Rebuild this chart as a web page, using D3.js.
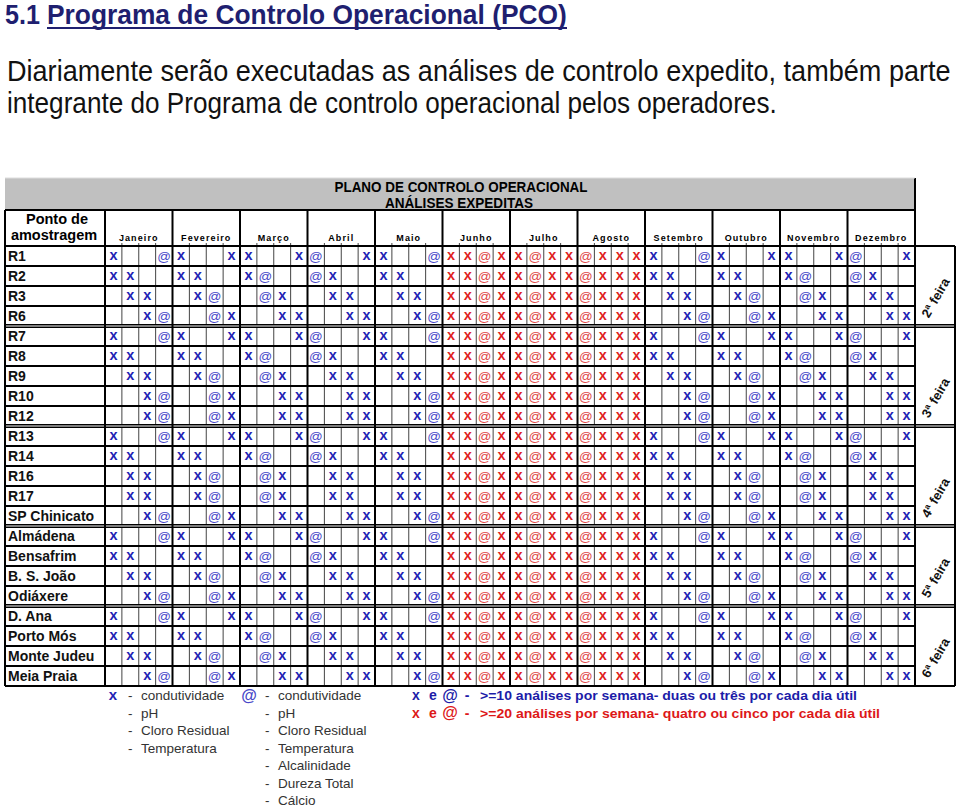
<!DOCTYPE html>
<html><head><meta charset="utf-8">
<script src="https://cdn.jsdelivr.net/npm/d3@7/dist/d3.min.js"></script>
<style>body{margin:0;background:#fff}svg{display:block}</style>
</head><body>
<svg id="c" width="960" height="810"></svg>
<script>
// ---------------- data ----------------
const months = ["Janeiro","Fevereiro","Março","Abril","Maio","Junho","Julho","Agosto","Setembro","Outubro","Novembro","Dezembro"];
const weeksPerMonth = 4;
const highSeason = ["Junho","Julho","Agosto"];
const stations = ["R1","R2","R3","R6","R7","R8","R9","R10","R12","R13","R14","R16","R17",
  "SP Chinicato","Almádena","Bensafrim","B. S. João","Odiáxere","D. Ana","Porto Mós","Monte Judeu","Meia Praia"];
// one string per station, one character per week: x, @ or . (none)
const schedule = [
  "x..@x..xx..x@..xx..@xx@xx@xx@xxxx..@x..xx..x@..x", // R1
  "xx..xx..x@..@x..xx..xx@xx@xx@xxxxx..xx..x@..@x..", // R2
  ".xx..x@..@x..xx..xx.xx@xx@xx@xxx.xx..x@..@x..xx.", // R3
  "..x@..@x..xx..xx..x@xx@xx@xx@xxx..x@..@x..xx..xx", // R6
  "x..@x..xx..x@..xx..@xx@xx@xx@xxxx..@x..xx..x@..x", // R7
  "xx..xx..x@..@x..xx..xx@xx@xx@xxxxx..xx..x@..@x..", // R8
  ".xx..x@..@x..xx..xx.xx@xx@xx@xxx.xx..x@..@x..xx.", // R9
  "..x@..@x..xx..xx..x@xx@xx@xx@xxx..x@..@x..xx..xx", // R10
  "..x@..@x..xx..xx..x@xx@xx@xx@xxx..x@..@x..xx..xx", // R12
  "x..@x..xx..x@..xx..@xx@xx@xx@xxxx..@x..xx..x@..x", // R13
  "xx..xx..x@..@x..xx..xx@xx@xx@xxxxx..xx..x@..@x..", // R14
  ".xx..x@..@x..xx..xx.xx@xx@xx@xxx.xx..x@..@x..xx.", // R16
  ".xx..x@..@x..xx..xx.xx@xx@xx@xxx.xx..x@..@x..xx.", // R17
  "..x@..@x..xx..xx..x@xx@xx@xx@xxx..x@..@x..xx..xx", // SP Chinicato
  "x..@x..xx..x@..xx..@xx@xx@xx@xxxx..@x..xx..x@..x", // Almádena
  "xx..xx..x@..@x..xx..xx@xx@xx@xxxxx..xx..x@..@x..", // Bensafrim
  ".xx..x@..@x..xx..xx.xx@xx@xx@xxx.xx..x@..@x..xx.", // B. S. João
  "..x@..@x..xx..xx..x@xx@xx@xx@xxx..x@..@x..xx..xx", // Odiáxere
  "x..@x..xx..x@..xx..@xx@xx@xx@xxxx..@x..xx..x@..x", // D. Ana
  "xx..xx..x@..@x..xx..xx@xx@xx@xxxxx..xx..x@..@x..", // Porto Mós
  ".xx..x@..@x..xx..xx.xx@xx@xx@xxx.xx..x@..@x..xx.", // Monte Judeu
  "..x@..@x..xx..xx..x@xx@xx@xx@xxx..x@..@x..xx..xx"  // Meia Praia
];
const weekdayLabels = ["2ª feira","3ª feira","4ª feira","5ª feira","6ª feira"];
const weekdayRowCounts = [4,5,5,4,4];
const legendX = ["condutividade","pH","Cloro Residual","Temperatura"];
const legendAt = ["condutividade","pH","Cloro Residual","Temperatura","Alcalinidade","Dureza Total","Cálcio"];
const frequencyNotes = [">=10 análises por semana- duas ou três por cada dia útil",
                        ">=20 análises por semana- quatro ou cinco por cada dia útil"];

// ---------------- drawing ----------------
const svg = d3.select("#c");
const SANS = "'Liberation Sans', Arial, Helvetica, sans-serif";
const BLUE = "#2222b4", BLUE_AT = "#4848c8", RED = "#e01e1e", RED_AT = "#e04848";
const NAVY = "#1f1f70";

const L = 5, X0 = 105, X1 = 915, XR = 955, TOP = 178, HDR = 210, Y0 = 246, Y1 = 686;
const cols = d3.range(months.length * weeksPerMonth);
const x = d3.scaleBand().domain(cols).range([X0, X1]);
const xm = d3.scaleBand().domain(months).range([X0, X1]);
const y = d3.scaleBand().domain(stations).range([Y0, Y1]);

// condensed text: fit natural width by font size, restore height by vertical scale
function condensed(txt, x0, y0, width, size, weight, fill) {
  const t = svg.append("text").attr("x", 0).attr("y", 0).attr("font-family", SANS)
    .attr("font-weight", weight).attr("font-size", size).attr("fill", fill).text(txt);
  const w0 = t.node().getComputedTextLength();
  const fs = size * width / w0;
  t.attr("font-size", fs).attr("transform", `translate(${x0},${y0}) scale(1,${size / fs})`);
  return t;
}

// title
condensed("5.1", 5, 24, 35, 27, "bold", NAVY);
condensed("Programa de Controlo Operacional (PCO)", 47, 24, 520, 27, "bold", NAVY);
svg.append("line").attr("x1", 47).attr("x2", 567).attr("y1", 28).attr("y2", 28).attr("stroke", NAVY).attr("stroke-width", 2);

// body text
condensed("Diariamente serão executadas as análises de controlo expedito, também parte", 7, 81, 944, 29, "normal", "#111");
condensed("integrante do Programa de controlo operacional pelos operadores.", 7, 113, 770, 29, "normal", "#111");

// header grey band
svg.append("rect").attr("x", L).attr("y", TOP).attr("width", X1 - L).attr("height", HDR - TOP).attr("fill", "#c0c0c0");
svg.append("text").attr("x", 461).attr("y", 192).attr("text-anchor", "middle").attr("font-family", SANS)
  .attr("font-weight", "bold").attr("font-size", 14.5).attr("textLength", 253).attr("lengthAdjust", "spacingAndGlyphs")
  .text("PLANO DE CONTROLO OPERACIONAL");
svg.append("text").attr("x", 459).attr("y", 208).attr("text-anchor", "middle").attr("font-family", SANS)
  .attr("font-weight", "bold").attr("font-size", 14.5).attr("textLength", 148).attr("lengthAdjust", "spacingAndGlyphs")
  .text("ANÁLISES EXPEDITAS");

// header row
svg.append("text").attr("x", 57).attr("y", 224).attr("text-anchor", "middle").attr("font-family", SANS)
  .attr("font-weight", "bold").attr("font-size", 14.5).text("Ponto de");
svg.append("text").attr("x", 54).attr("y", 240).attr("text-anchor", "middle").attr("font-family", SANS)
  .attr("font-weight", "bold").attr("font-size", 14.5).text("amostragem");
svg.selectAll("text.month").data(months).join("text").attr("class", "month")
  .attr("x", d => xm(d) + xm.bandwidth() / 2).attr("y", 241).attr("text-anchor", "middle")
  .attr("font-family", SANS).attr("font-weight", "bold").attr("font-size", 9).attr("letter-spacing", 1.1)
  .text(d => d);

// grid: thin week lines
const grid = svg.append("g");
grid.selectAll("line.wk").data(cols.filter(c => c % weeksPerMonth !== 0)).join("line")
  .attr("x1", c => x(c)).attr("x2", c => x(c)).attr("y1", 243).attr("y2", Y1)
  .attr("stroke", "#444").attr("stroke-width", 1);
// row lines
grid.selectAll("line.row").data(stations.slice(1)).join("line")
  .attr("x1", L).attr("x2", X1).attr("y1", d => y(d)).attr("y2", d => y(d))
  .attr("stroke", "#000").attr("stroke-width", 2);
// group separators
const groupEnds = d3.cumsum(weekdayRowCounts);
const groupStarts = [0, ...groupEnds.slice(0, -1)];
groupStarts.slice(1).forEach(s => {
  const yy = y(stations[s]);
  grid.append("line").attr("x1", L).attr("x2", XR).attr("y1", yy).attr("y2", yy).attr("stroke", "#000").attr("stroke-width", 4);
  grid.append("line").attr("x1", L).attr("x2", XR).attr("y1", yy).attr("y2", yy).attr("stroke", "#aaa").attr("stroke-width", 1.5);
});
// month lines
grid.selectAll("line.mo").data(months).join("line")
  .attr("x1", d => xm(d)).attr("x2", d => xm(d)).attr("y1", HDR).attr("y2", Y1)
  .attr("stroke", "#000").attr("stroke-width", 2);
// frame
const fr = [
  [L, HDR, X1, HDR], [L, Y0, XR, Y0], [L, Y1, XR, Y1], [L, HDR, L, Y1],
  [X1, TOP, X1, Y1], [XR, Y0, XR, Y1]
];
grid.selectAll("line.fr").data(fr).join("line")
  .attr("x1", d => d[0]).attr("y1", d => d[1]).attr("x2", d => d[2]).attr("y2", d => d[3])
  .attr("stroke", "#000").attr("stroke-width", 2);
svg.append("line").attr("x1", L).attr("x2", X1).attr("y1", TOP).attr("y2", TOP).attr("stroke", "#ddd");

// station labels
svg.selectAll("text.st").data(stations).join("text").attr("class", "st")
  .attr("x", 8).attr("y", d => y(d) + y.bandwidth() / 2 + 5)
  .attr("font-family", SANS).attr("font-weight", "bold").attr("font-size", 14).attr("fill", "#111").text(d => d);

// cells
const cells = [];
stations.forEach((s, i) => {
  schedule[i].split("").forEach((ch, c) => {
    if (ch !== ".") cells.push({s, c, ch, hot: highSeason.includes(months[Math.floor(c / weeksPerMonth)])});
  });
});
svg.selectAll("text.cell").data(cells).join("text").attr("class", "cell")
  .attr("x", d => x(d.c) + x.bandwidth() / 2)
  .attr("y", d => y(d.s) + y.bandwidth() / 2 + (d.ch === "x" ? 4 : 4.5))
  .attr("text-anchor", "middle").attr("font-family", SANS)
  .attr("font-weight", d => d.ch === "x" ? "bold" : "normal")
  .attr("font-size", d => d.ch === "x" ? 14.5 : 13.5)
  .attr("fill", d => d.ch === "x" ? (d.hot ? RED : BLUE) : (d.hot ? RED_AT : BLUE_AT))
  .text(d => d.ch);

// weekday labels
weekdayLabels.forEach((lab, i) => {
  const lastRow = stations[groupEnds[i] - 1];
  const yb = y(lastRow) + y.bandwidth();
  svg.append("text").attr("transform", `translate(936,${yb - 28}) rotate(-60)`)
    .attr("text-anchor", "middle").attr("dy", 4).attr("font-family", SANS).attr("font-weight", "bold")
    .attr("font-size", 13).attr("fill", "#111").text(lab);
});

// legend
const LG = 17.5;
svg.append("text").attr("x", 113).attr("y", 700).attr("text-anchor", "middle").attr("font-family", SANS)
  .attr("font-weight", "bold").attr("font-size", 15).attr("fill", BLUE).text("x");
svg.append("text").attr("x", 249).attr("y", 700.5).attr("text-anchor", "middle").attr("font-family", SANS)
  .attr("font-weight", "bold").attr("font-size", 16).attr("fill", BLUE_AT).text("@");
[[legendX, 128], [legendAt, 265]].forEach(([arr, x0]) => {
  const g = svg.append("g");
  g.selectAll("text.d").data(arr).join("text").attr("x", x0).attr("y", (d, i) => 700 + i * LG)
    .attr("font-family", SANS).attr("font-size", 13.5).attr("fill", "#333").text("-");
  g.selectAll("text.t").data(arr).join("text").attr("x", x0 + 13).attr("y", (d, i) => 700 + i * LG)
    .attr("font-family", SANS).attr("font-size", 13.5).attr("fill", "#333").text(d => d);
});
frequencyNotes.forEach((note, i) => {
  const col = i === 0 ? "#1c1ca8" : "#dd1818";
  const yy = 700 + i * LG;
  const g = svg.append("g").attr("font-family", SANS).attr("font-weight", "bold").attr("fill", col);
  g.append("text").attr("x", 416).attr("y", yy).attr("text-anchor", "middle").attr("font-size", 14).text("x");
  g.append("text").attr("x", 433).attr("y", yy).attr("text-anchor", "middle").attr("font-size", 14).text("e");
  g.append("text").attr("x", 450).attr("y", yy + 0.5).attr("text-anchor", "middle").attr("font-size", 16).text("@");
  g.append("text").attr("x", 467).attr("y", yy).attr("text-anchor", "middle").attr("font-size", 14).text("-");
  g.append("text").attr("x", 480).attr("y", yy).attr("font-size", 13.5)
    .attr("textLength", i === 0 ? 377 : 400).attr("lengthAdjust", "spacingAndGlyphs").text(note);
});
</script>
</body></html>
